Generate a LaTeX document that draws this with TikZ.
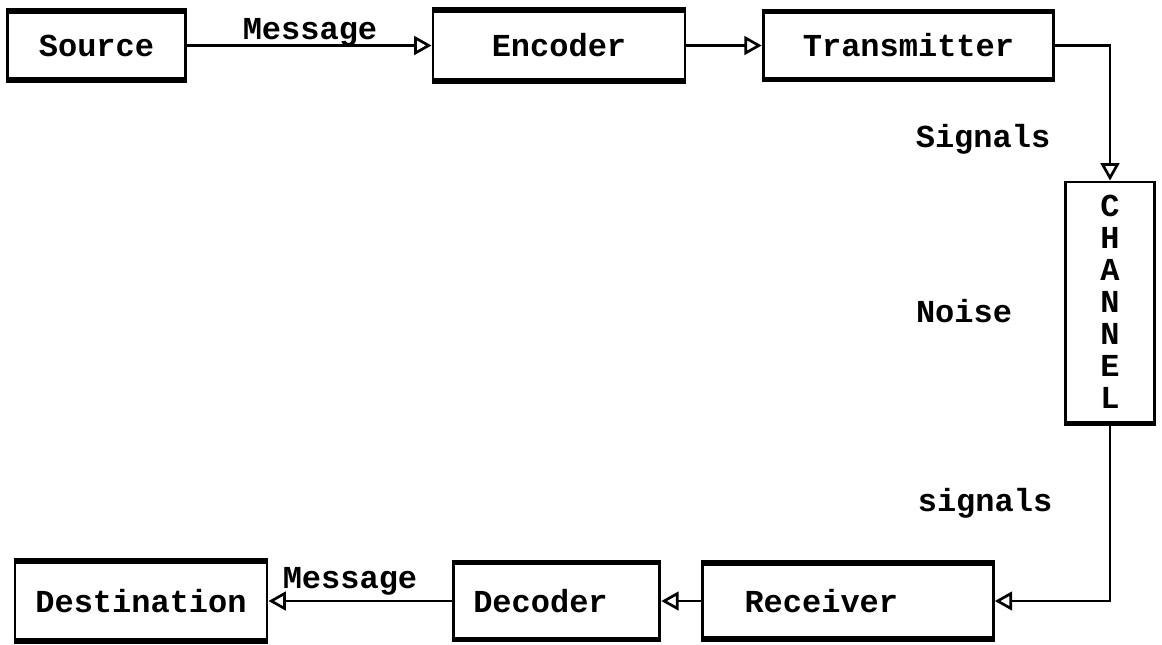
\documentclass[tikz,border=0pt]{standalone}
\usepackage{fontspec}
\setmainfont{Liberation Mono}
\usetikzlibrary{arrows.meta}

\begin{document}
\begin{tikzpicture}[x=0.75pt,y=-0.75pt,
  block/.style={draw, line width=2.2pt, rectangle, inner sep=0pt,
                font=\fontsize{24}{24}\selectfont\bfseries},
  lbl/.style={font=\fontsize{24}{24}\selectfont\bfseries, inner sep=0pt},
  flow/.style={line width=2pt,
               -{Triangle[open, length=13pt, width=14pt, line width=2pt]}},
  rim/.style={line width=4pt}
]
\useasboundingbox (0,0) rectangle (1162,644);

% top row
\node[block, minimum width=133pt, minimum height=50pt] (src) at (96.5,45.5) {Source};
\node[block, minimum width=189pt, minimum height=51pt] (enc) at (559,45.5) {Encoder};
\node[block, minimum width=218pt, minimum height=49pt] (tx)  at (908.5,45.5) {Transmitter};

% channel, letters stacked
\node[block, minimum width=67pt, minimum height=180pt, align=center,
      font=\fontsize{24}{24}\selectfont\bfseries] (ch) at (1110,302)
      {C\\H\\A\\N\\N\\E\\L};

% bottom row (box outlines; their words sit a little left of centre)
\node[block, minimum width=218pt, minimum height=55pt] (rx)  at (848,601) {};
\node[block, minimum width=155pt, minimum height=56pt] (dec) at (556.5,601) {};
\node[block, minimum width=189pt, minimum height=58pt] (dst) at (141,601) {Destination};
\node[lbl] (rxt)  at ([xshift=-20pt]rx.center)  {Receiver};
\node[lbl] (dect) at ([xshift=-12pt]dec.center) {Decoder};

% heavier top and bottom rims of the boxes
\foreach \b in {src,enc,tx,rx,dec,dst}{
  \draw[rim] (\b.north west) -- (\b.north east);
  \draw[rim] (\b.south west) -- (\b.south east);
}
\draw[rim] (ch.south west) -- (ch.south east);

% connectors
\draw[flow] (src.east) -- (enc.west);
\draw[flow] (enc.east) -- (tx.west);
\draw[flow] (tx.east) -| (ch.north);
\draw[flow] (ch.south) |- (rx.east);
\draw[flow] (rx.west) -- (dec.east);
\draw[flow] (dec.west) -- (dst.east);

% labels
\node[lbl] (m1) at (310,32)  {Message};
\node[lbl] (s1) at (983,139) {Signals};
\node[lbl] (nz) at (964,311) {Noise};
\node[lbl] (s2) at (985,503) {signals};
\node[lbl] (m2) at (350,581) {Message};
\end{tikzpicture}
\end{document}
